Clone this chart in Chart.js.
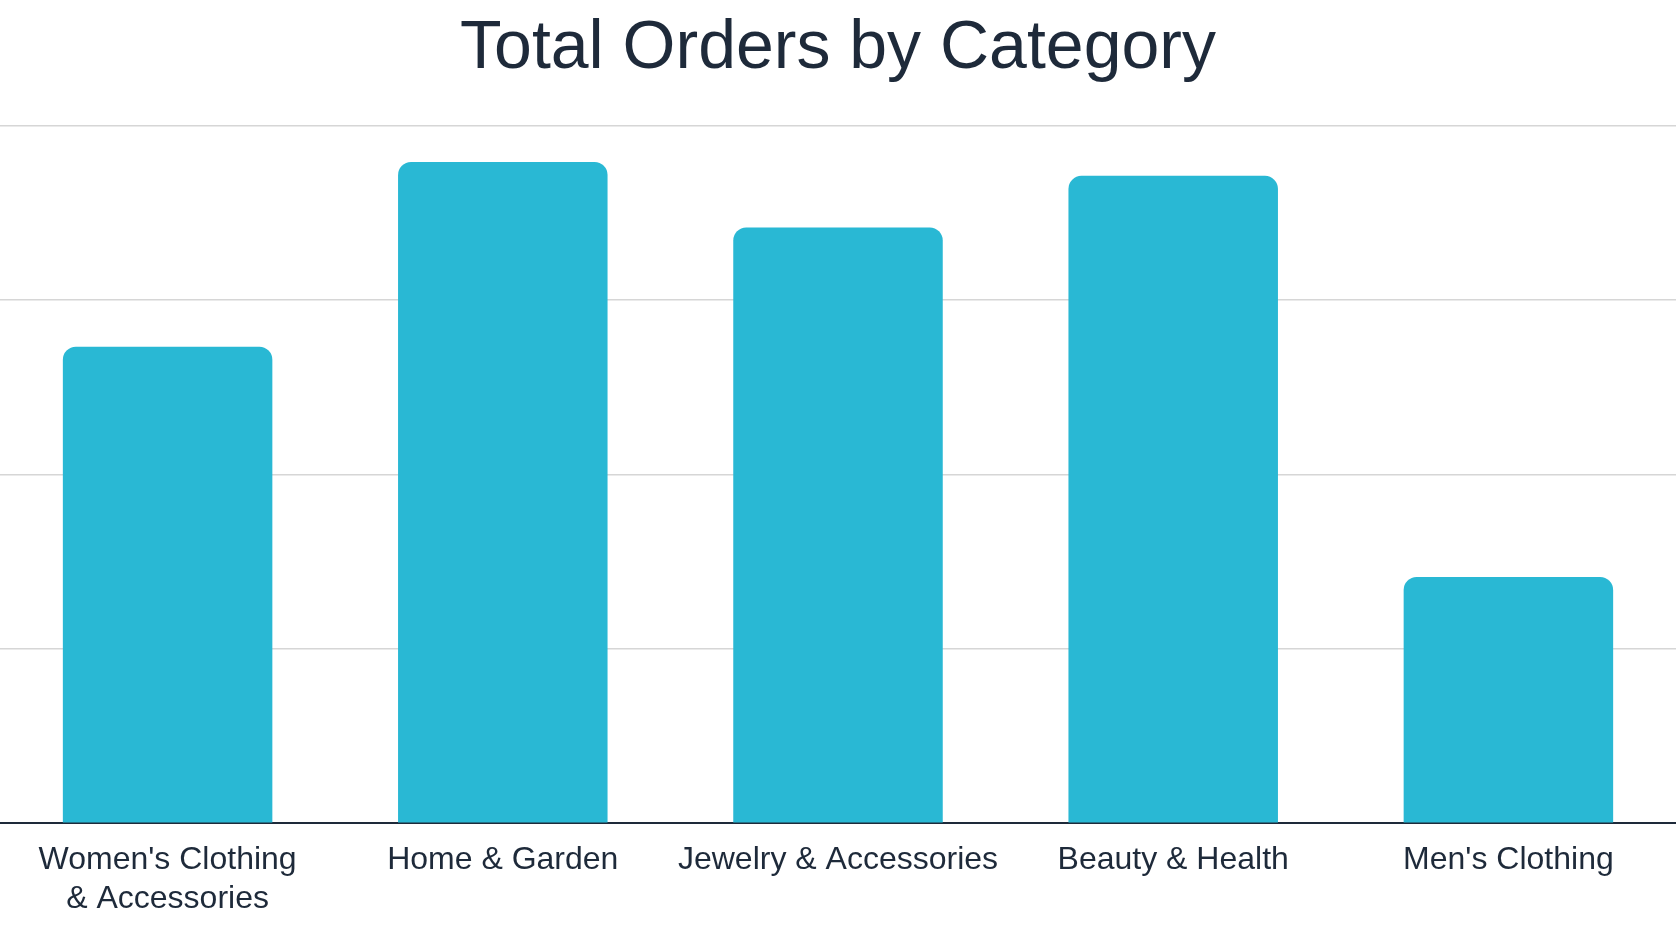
<!DOCTYPE html>
<html><head><meta charset="utf-8">
<script src="https://cdn.jsdelivr.net/npm/chart.js@4/dist/chart.umd.min.js"></script>
<style>html,body{margin:0;padding:0;background:#fff}#w{width:1676px;height:928px}</style>
</head><body><div id="w"><canvas id="c"></canvas></div>
<script>
const categories = [["Women's Clothing","& Accessories"],"Home & Garden","Jewelry & Accessories","Beauty & Health","Men's Clothing"];
const orders = [68.3, 94.8, 85.4, 92.8, 35.3];
const yTicks = [0, 25, 50, 75, 100];
new Chart(document.getElementById('c'), {
  type: 'bar',
  data: { labels: categories, datasets: [{ label: 'Total Orders', data: orders, backgroundColor: '#29b8d4',
    borderRadius: {topLeft: 13, topRight: 13, bottomLeft: 0, bottomRight: 0}, borderSkipped: 'bottom',
    categoryPercentage: 0.625, barPercentage: 1 }] },
  options: {
    responsive: true, maintainAspectRatio: false, animation: false,
    layout: { padding: { left: 0, right: 0, top: 0, bottom: 0 } },
    plugins: { legend: { display: false }, tooltip: { enabled: false },
      title: { display: true, text: 'Total Orders by Category', color: '#1e2a3a',
        font: { family: 'Liberation Sans, Arial, sans-serif', size: 68, weight: 'normal' },
        padding: { top: 8, bottom: 36 } } },
    scales: {
      x: { grid: { display: false }, border: { color: '#1e2a3a', width: 2 },
        ticks: { color: '#1e2a3a', font: { family: 'Liberation Sans, Arial, sans-serif', size: 32 }, maxRotation: 0, padding: 10 } },
      y: { min: 0, max: 100, afterBuildTicks: s => { s.ticks = yTicks.map(v => ({value: v})); },
        ticks: { display: false }, border: { display: false },
        grid: { color: '#d6d6d6', lineWidth: 1.5, drawTicks: false } }
    }
  }
});
</script></body></html>
